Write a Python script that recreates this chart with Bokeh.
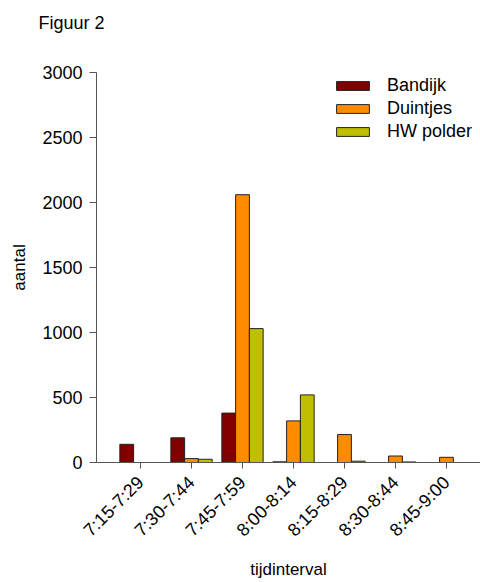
import math
from bokeh.plotting import figure
from bokeh.models import ColumnDataSource, Range1d, FixedTicker, Legend, LegendItem, Title
from bokeh.embed import file_html
from bokeh.resources import INLINE

categories = ["7:15-7:29", "7:30-7:44", "7:45-7:59", "8:00-8:14", "8:15-8:29", "8:30-8:44", "8:45-9:00"]
bandijk = [140, 190, 380, 5, 0, 0, 0]
duintjes = [0, 30, 2060, 320, 215, 50, 40]
hw_polder = [0, 25, 1030, 520, 10, 4, 0]
y_ticks = [0, 500, 1000, 1500, 2000, 2500, 3000]

series = [("Bandijk", bandijk, "#800000", -0.27),
          ("Duintjes", duintjes, "#FF8C00", 0.0),
          ("HW polder", hw_polder, "#BFBF00", 0.27)]

FONT = "Liberation Sans"
FS = "18px"
FS_LAB = "17px"

p = figure(width=480, height=582, output_backend="svg", toolbar_location=None,
           x_range=Range1d(-0.863, 6.667), y_range=Range1d(0, 3000),
           min_border_left=96, min_border_right=0, min_border_top=72, min_border_bottom=119)
p.outline_line_color = None
p.grid.visible = False
p.background_fill_color = "white"
p.border_fill_color = "white"

# main title (outermost), with a spacer title between it and the frame
p.title.text = "Figuur 2"
p.title.align = "left"
p.title.offset = -58
p.title.standoff = 0
p.title.text_font = FONT
p.title.text_font_size = FS
p.title.text_font_style = "normal"
p.title.text_color = "black"
p.add_layout(Title(text=" ", text_font_size="1px", standoff=37), "above")

items = []
idx = list(range(len(categories)))
for name, vals, color, off in series:
    src = ColumnDataSource(dict(x=[i + off for i in idx], top=vals))
    r = p.vbar(x="x", top="top", width=0.27, bottom=0, source=src,
               fill_color=color, line_color="#222222", line_width=1)
    items.append(LegendItem(label=name, renderers=[r]))

legend = Legend(items=items, location=(236, 320), padding=0, margin=0,
                border_line_color=None, background_fill_alpha=0,
                glyph_width=41, glyph_height=11, label_height=11, spacing=2,
                label_standoff=14, label_text_font=FONT, label_text_font_size=FS,
                label_text_color="black")
p.add_layout(legend, "center")

xa = p.xaxis[0]
xa.ticker = FixedTicker(ticks=idx)
xa.major_label_overrides = {i: c for i, c in enumerate(categories)}
xa.major_label_orientation = math.pi / 4
xa.minor_tick_line_color = None
xa.major_tick_out = 6
xa.major_tick_in = 0
xa.axis_line_color = "#555555"
xa.major_tick_line_color = "#555555"
xa.major_label_text_font = FONT
xa.major_label_text_font_size = FS
xa.major_label_text_color = "black"
xa.major_label_standoff = 11
xa.axis_label = "tijdinterval"
xa.axis_label_text_font = FONT
xa.axis_label_text_font_size = FS_LAB
xa.axis_label_text_font_style = "normal"
xa.axis_label_text_color = "black"
xa.axis_label_standoff = 10

ya = p.yaxis[0]
ya.ticker = FixedTicker(ticks=y_ticks)
ya.minor_tick_line_color = None
ya.major_tick_out = 7
ya.major_tick_in = 0
ya.axis_line_color = "#555555"
ya.major_tick_line_color = "#555555"
ya.major_label_text_font = FONT
ya.major_label_text_font_size = FS
ya.major_label_text_color = "black"
ya.major_label_standoff = 7
ya.axis_label = "aantal"
ya.axis_label_text_font = FONT
ya.axis_label_text_font_size = FS_LAB
ya.axis_label_text_font_style = "normal"
ya.axis_label_text_color = "black"
ya.axis_label_standoff = 10

open("out.html", "w").write(file_html(p, INLINE))
